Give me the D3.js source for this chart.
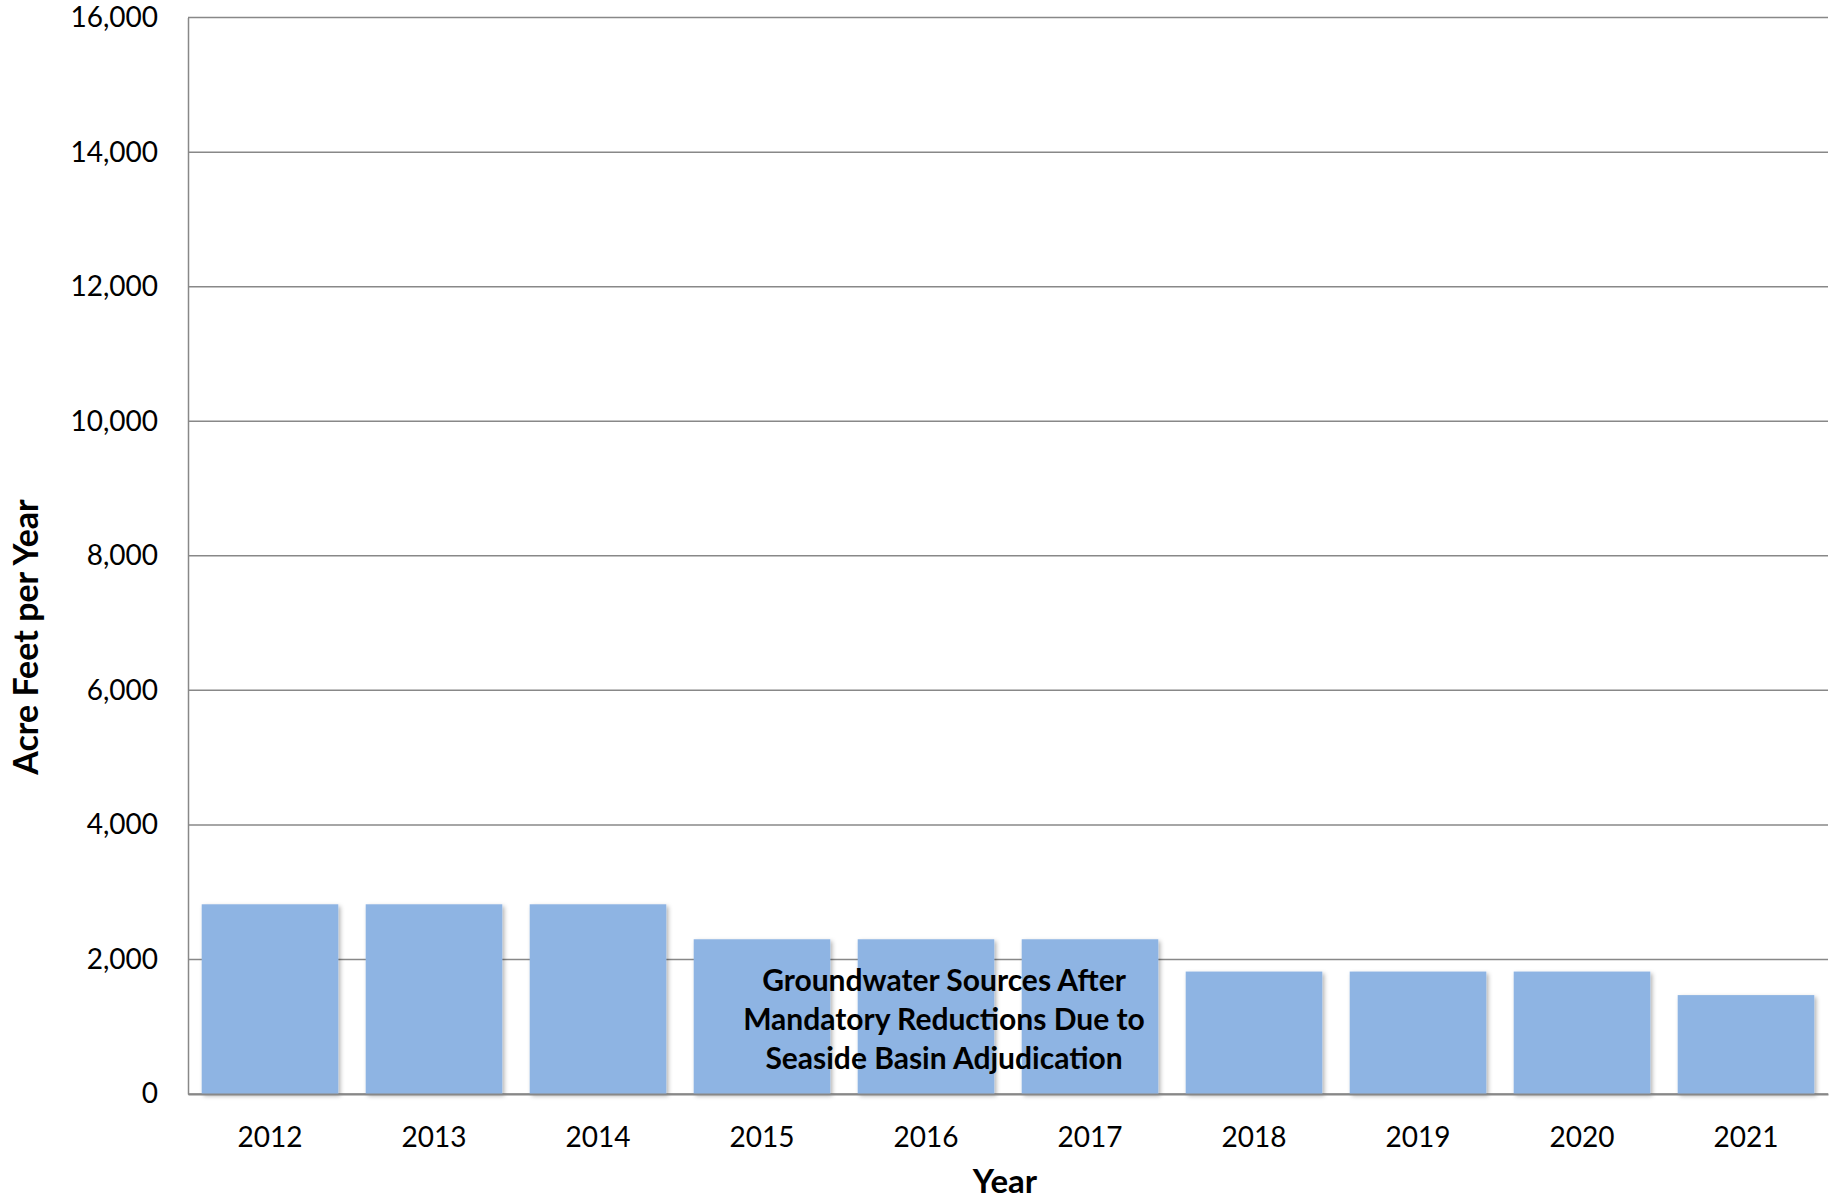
<!DOCTYPE html>
<html>
<head>
<meta charset="utf-8">
<script src="https://cdn.jsdelivr.net/npm/d3@7"></script>
<style>
  body { margin: 0; background: #fff; }
  svg { display: block; font-family: Lato, "Open Sans", sans-serif; }
</style>
</head>
<body>
<div id="chart"></div>
<script>
// Groundwater sources bar chart (acre feet per year)

const years = ['2012', '2013', '2014', '2015', '2016', '2017', '2018', '2019', '2020', '2021'];
const acreFeet = [2820, 2820, 2820, 2300, 2300, 2300, 1820, 1820, 1820, 1470];
const yTicks = [0, 2000, 4000, 6000, 8000, 10000, 12000, 14000, 16000];
const noteLines = ['Groundwater Sources After', 'Mandatory Reductions Due to', 'Seaside Basin Adjudication'];

const W = 1839, H = 1202;
const margin = { top: 17.6, right: 11, bottom: 108, left: 188 };
const width = W - margin.left - margin.right;
const height = H - margin.top - margin.bottom;

const svg = d3.select('#chart').append('svg')
    .attr('width', W)
    .attr('height', H);

// soft shadow under bars
const defs = svg.append('defs');
const filter = defs.append('filter')
    .attr('id', 'shadow')
    .attr('x', '-10%').attr('y', '-10%')
    .attr('width', '130%').attr('height', '130%');
filter.append('feDropShadow')
    .attr('dx', 2).attr('dy', 2)
    .attr('stdDeviation', 2)
    .attr('flood-color', '#000')
    .attr('flood-opacity', 0.3);

const g = svg.append('g')
    .attr('transform', `translate(${margin.left},${margin.top})`);

const x = d3.scaleBand()
    .domain(years)
    .range([0, width])
    .paddingInner(0.167)
    .paddingOuter(0.0835);

const y = d3.scaleLinear()
    .domain([0, 16000])
    .range([height, 0]);

// gridlines
g.append('g')
    .selectAll('line')
    .data(yTicks)
    .join('line')
    .attr('x1', 0)
    .attr('x2', width)
    .attr('y1', d => y(d))
    .attr('y2', d => y(d))
    .attr('stroke', '#888')
    .attr('stroke-width', 1.5);

// y axis
const yAxis = d3.axisLeft(y)
    .tickValues(yTicks)
    .tickFormat(d3.format(','))
    .tickSize(0)
    .tickPadding(30);

g.append('g')
    .call(yAxis)
    .call(s => s.select('.domain').attr('stroke', '#888').attr('stroke-width', 1.5))
    .selectAll('text')
    .attr('font-size', 28)
    .attr('fill', '#000')
    .attr('font-family', 'Lato, sans-serif');

// bars
g.append('g')
    .selectAll('rect')
    .data(years.map((yr, i) => ({ year: yr, value: acreFeet[i] })))
    .join('rect')
    .attr('x', d => x(d.year))
    .attr('y', d => y(d.value))
    .attr('width', x.bandwidth())
    .attr('height', d => height - y(d.value))
    .attr('fill', '#8eb4e3')
    .attr('filter', 'url(#shadow)');

// x axis
const xAxis = d3.axisBottom(x)
    .tickSize(0)
    .tickPadding(33);

g.append('g')
    .attr('transform', `translate(0,${height})`)
    .call(xAxis)
    .call(s => s.select('.domain').attr('stroke', '#888').attr('stroke-width', 2))
    .selectAll('text')
    .attr('font-size', 28)
    .attr('fill', '#000')
    .attr('font-family', 'Lato, sans-serif');

// axis titles
svg.append('text')
    .attr('x', margin.left + width / 2 - 3)
    .attr('y', 1193)
    .attr('text-anchor', 'middle')
    .attr('font-size', 33)
    .attr('font-weight', 'bold')
    .text('Year');

svg.append('text')
    .attr('transform', 'rotate(-90)')
    .attr('x', -637)
    .attr('y', 38)
    .attr('text-anchor', 'middle')
    .attr('font-size', 34)
    .attr('font-weight', 'bold')
    .text('Acre Feet per Year');

// annotation over the 2015-2017 bars
const noteX = x('2016') + x.bandwidth() / 2 + 18;
g.append('text')
    .attr('text-anchor', 'middle')
    .attr('font-size', 30)
    .attr('font-weight', 'bold')
    .selectAll('tspan')
    .data(noteLines)
    .join('tspan')
    .attr('x', noteX)
    .attr('y', (d, i) => y(2000) + 32 + i * 38.7)
    .text(d => d);
</script>
</body>
</html>
